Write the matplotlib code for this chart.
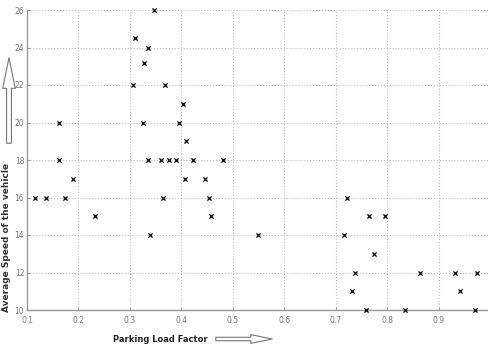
import matplotlib
matplotlib.use('Agg')
import matplotlib.pyplot as plt
from matplotlib.patches import FancyArrowPatch

load_factor = [0.346, 0.31, 0.335, 0.327, 0.306, 0.369, 0.404,
               0.163, 0.325, 0.396, 0.41,
               0.163, 0.335, 0.36, 0.376, 0.389, 0.422, 0.48,
               0.19, 0.407, 0.445,
               0.116, 0.137, 0.174, 0.364, 0.454, 0.721,
               0.233, 0.458, 0.764, 0.796,
               0.339, 0.549, 0.717, 0.774,
               0.738, 0.863, 0.932, 0.975,
               0.731, 0.942,
               0.759, 0.834, 0.970]
avg_speed = [26, 24.5, 24, 23.2, 22, 22, 21,
             20, 20, 20, 19,
             18, 18, 18, 18, 18, 18, 18,
             17, 17, 17,
             16, 16, 16, 16, 16, 16,
             15, 15, 15, 15,
             14, 14, 14, 13,
             12, 12, 12, 12,
             11, 11,
             10, 10, 10]

xticks = [0.1, 0.2, 0.3, 0.4, 0.5, 0.6, 0.7, 0.8, 0.9]
yticks = [10, 12, 14, 16, 18, 20, 22, 24, 26]

narrow = ['Liberation Sans Narrow', 'DejaVu Sans']

fig = plt.figure(figsize=(4.88, 3.48), dpi=100)
ax = fig.add_axes([27/488, 1 - 310/348, 1 - 27/488, 300/348])

ax.scatter(load_factor, avg_speed, marker='x', s=9, c='black', linewidths=0.9, zorder=3, clip_on=False)

ax.set_xlim(0.1, 0.996)
ax.set_ylim(10, 26)
ax.set_xticks(xticks)
ax.set_yticks(yticks)
ax.set_xticklabels([str(t) for t in xticks])
ax.grid(True, linestyle=':', color='#bbbbbb', linewidth=0.8)
for s in ['top', 'right']:
    ax.spines[s].set_visible(False)
for s in ['left', 'bottom']:
    ax.spines[s].set_color('#999999')
    ax.spines[s].set_linewidth(1.0)
ax.tick_params(direction='in', length=2, colors='#999999', labelcolor='#777777',
               labelsize=5.5, pad=2)
ax.tick_params(axis='x', pad=4)
for lab in ax.get_xticklabels() + ax.get_yticklabels():
    lab.set_family(narrow)

fig.text(7/488, 1 - 237/348, 'Average Speed of the vehicle', rotation=90,
         ha='center', va='center', fontsize=6.5, fontweight='bold', color='#333333')
fig.text(208/488, 1 - 339/348, 'Parking Load Factor', ha='right', va='center',
         fontsize=6, fontweight='bold', color='#222222', family=narrow)

style = 'simple,head_length=2.2,head_width=0.9,tail_width=0.35'
fig.patches.append(FancyArrowPatch((9/488, 1 - 146/348), (9/488, 1 - 55/348),
                                   transform=fig.transFigure, arrowstyle=style,
                                   mutation_scale=10, fc='white', ec='#777777', lw=0.8))
fig.patches.append(FancyArrowPatch((213/488, 1 - 339/348), (275/488, 1 - 339/348),
                                   transform=fig.transFigure, arrowstyle=style,
                                   mutation_scale=7, fc='white', ec='#777777', lw=0.8))

fig.savefig('out.png', dpi=100)
